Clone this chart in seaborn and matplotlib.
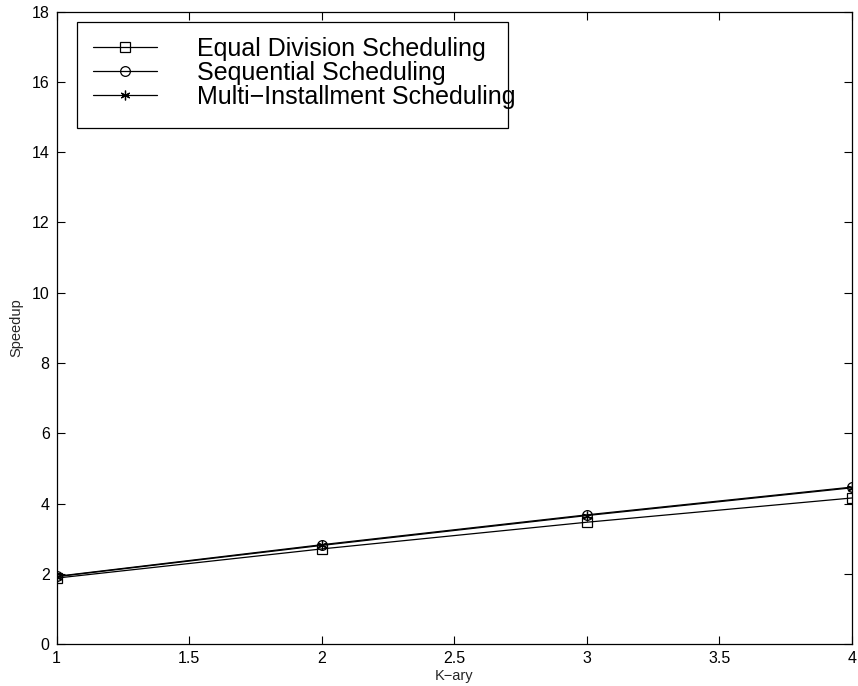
import pandas as pd
import numpy as np
import matplotlib
matplotlib.use("Agg")
import matplotlib.pyplot as plt
from matplotlib.patches import Rectangle
import seaborn as sns

# data
k_ary = [1, 2, 3, 4]
equal_div = [1.88, 2.71, 3.47, 4.16]
sequential = [1.93, 2.83, 3.68, 4.47]
multi_inst = [1.92, 2.81, 3.66, 4.45]
series_names = ["Equal Division Scheduling", "Sequential Scheduling",
                "Multi\u2212Installment Scheduling"]
x_ticks = [1, 1.5, 2, 2.5, 3, 3.5, 4]
x_tick_labels = ["1", "1.5", "2", "2.5", "3", "3.5", "4"]
y_ticks = list(range(0, 19, 2))

sns.set_style("ticks")
plt.rcParams['font.family'] = ['Liberation Sans', 'DejaVu Sans']

W, H = 858, 686
fig = plt.figure(figsize=(W / 100, H / 100), dpi=100)
ax = fig.add_axes([0.066, 0.061, 0.927, 0.922])

markers = ["s", "o", (6, 2, 0)]
for vals, name, m in zip([equal_div, sequential, multi_inst], series_names, markers):
    sns.lineplot(x=k_ary, y=vals, ax=ax, color="black", linewidth=0.9,
                 marker=m, markersize=7, markerfacecolor="none",
                 markeredgecolor="black", markeredgewidth=0.9, label=name)

ax.set_xlim(1, 4)
ax.set_ylim(0, 18)
ax.set_xticks(x_ticks)
ax.set_xticklabels(x_tick_labels)
ax.set_yticks(y_ticks)
ax.tick_params(direction="in", top=True, right=True, labelsize=11.5, length=6,
               width=0.8, colors="black", pad=5)
for s in ax.spines.values():
    s.set_visible(True)
    s.set_linewidth(0.9)
    s.set_color("black")
ax.set_xlabel("K\u2212ary", fontsize=10.5, labelpad=2)
ax.set_ylabel("Speedup", fontsize=10.5, labelpad=6)

# legend entries without frame; the frame is drawn separately (text runs over it)
leg = ax.legend(loc="upper left", bbox_to_anchor=(93 / W, 1 - 37 / H),
                bbox_transform=fig.transFigure, fontsize=18, frameon=False,
                handlelength=2.55, handletextpad=1.6, labelspacing=0.0,
                borderpad=0, borderaxespad=0)
for t in leg.get_texts():
    t.set_color("black")
box = Rectangle((77 / W, 1 - 128 / H), 431 / W, 106 / H, transform=fig.transFigure,
                fill=False, edgecolor="black", linewidth=0.9, zorder=5)
fig.patches.append(box)

fig.savefig("out.png", dpi=100)
